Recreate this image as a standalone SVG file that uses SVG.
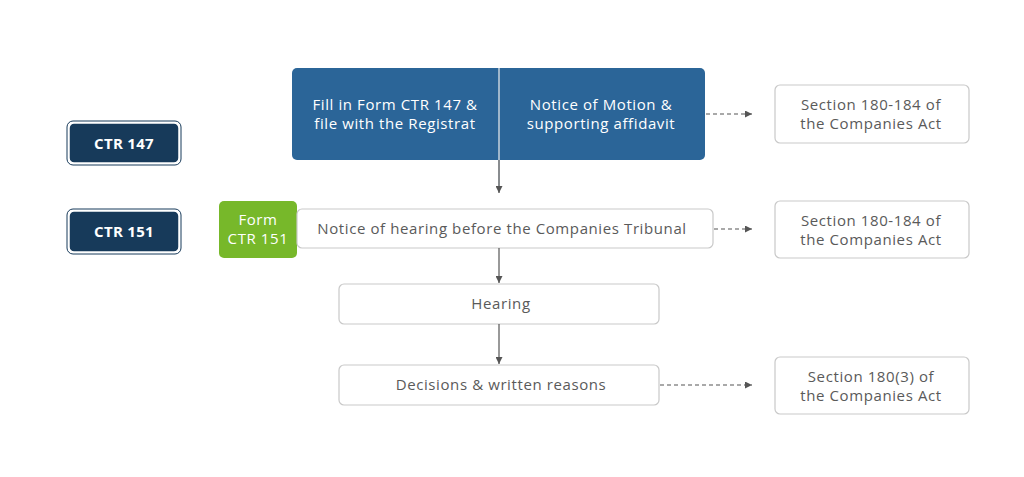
<svg xmlns="http://www.w3.org/2000/svg" width="1024" height="477" viewBox="0 0 1024 477">
<defs>
<style>
.t{font-family:"Open Sans","Liberation Sans",sans-serif;font-size:15px;fill:#5a5a5a;text-anchor:middle;letter-spacing:0.6px}
.w{fill:#fff}
.b{font-weight:bold;font-size:15px;letter-spacing:0.3px}
.box{fill:#fff;stroke:#c9c9c9;stroke-width:1.2}
.tag{fill:#173a5a;stroke:#fff;stroke-width:1.5}
.tago{fill:none;stroke:#173a5a;stroke-width:1}
.solid{stroke:#555;stroke-width:1.2;fill:none}
.dash{stroke:#555;stroke-width:1.2;fill:none;stroke-dasharray:4 3}
</style>
<marker id="ah" viewBox="0 0 10 10" refX="10" refY="5" markerWidth="7" markerHeight="7" markerUnits="userSpaceOnUse" orient="auto">
<path d="M0,0 L10,5 L0,10 z" fill="#555"/>
</marker>
</defs>
<rect width="1024" height="477" fill="#fff"/>
<g id="ctr147">
<rect class="tago" x="67" y="121" width="114" height="44" rx="6"/>
<rect class="tag" x="69" y="123" width="110" height="40" rx="5"/>
<text class="t w b" x="124" y="149">CTR 147</text>
</g>
<g id="ctr151">
<rect class="tago" x="67" y="209" width="114" height="45" rx="6"/>
<rect class="tag" x="69" y="211" width="110" height="41" rx="5"/>
<text class="t w b" x="124" y="237">CTR 151</text>
</g>
<g id="top">
<rect x="292" y="68" width="413" height="92" rx="5" fill="#2b6598"/>
<text class="t w" x="395" y="110">Fill in Form CTR 147 &amp;</text>
<text class="t w" x="395" y="129">file with the Registrat</text>
<text class="t w" x="601" y="110">Notice of Motion &amp;</text>
<text class="t w" x="601" y="129">supporting affidavit</text>
</g>
<g id="form151">
<rect x="219" y="201" width="78" height="57" rx="5" fill="#77b82a"/>
<text class="t w" x="258" y="225">Form</text>
<text class="t w" x="258" y="244">CTR 151</text>
</g>
<g id="notice">
<rect class="box" x="297" y="209" width="416" height="39" rx="5"/>
<text class="t" x="502" y="234">Notice of hearing before the Companies Tribunal</text>
</g>
<g id="hearing">
<rect class="box" x="339" y="284" width="320" height="40" rx="5"/>
<text class="t" x="501" y="309">Hearing</text>
</g>
<g id="decisions">
<rect class="box" x="339" y="365" width="320" height="40" rx="5"/>
<text class="t" x="501" y="390">Decisions &amp; written reasons</text>
</g>
<g id="ref1">
<rect class="box" x="775" y="85" width="194" height="58" rx="5"/>
<text class="t" x="871" y="110">Section 180-184 of</text>
<text class="t" x="871" y="129">the Companies Act</text>
</g>
<g id="ref2">
<rect class="box" x="775" y="201" width="194" height="57" rx="5"/>
<text class="t" x="871" y="226">Section 180-184 of</text>
<text class="t" x="871" y="245">the Companies Act</text>
</g>
<g id="ref3">
<rect class="box" x="775" y="357" width="194" height="57" rx="5"/>
<text class="t" x="871" y="382">Section 180(3) of</text>
<text class="t" x="871" y="401">the Companies Act</text>
</g>
<g id="connectors">
<line x1="499" y1="68" x2="499" y2="192" stroke="#c9d3dd" stroke-width="1.5"/>
<line class="solid" x1="499" y1="160" x2="499" y2="193" marker-end="url(#ah)"/>
<line class="solid" x1="499" y1="248" x2="499" y2="283" marker-end="url(#ah)"/>
<line class="solid" x1="499" y1="324" x2="499" y2="364" marker-end="url(#ah)"/>
<line class="dash" x1="706" y1="114" x2="752" y2="114" marker-end="url(#ah)"/>
<line class="dash" x1="714" y1="229" x2="752" y2="229" marker-end="url(#ah)"/>
<line class="dash" x1="660" y1="385" x2="752" y2="385" marker-end="url(#ah)"/>
</g>
</svg>
